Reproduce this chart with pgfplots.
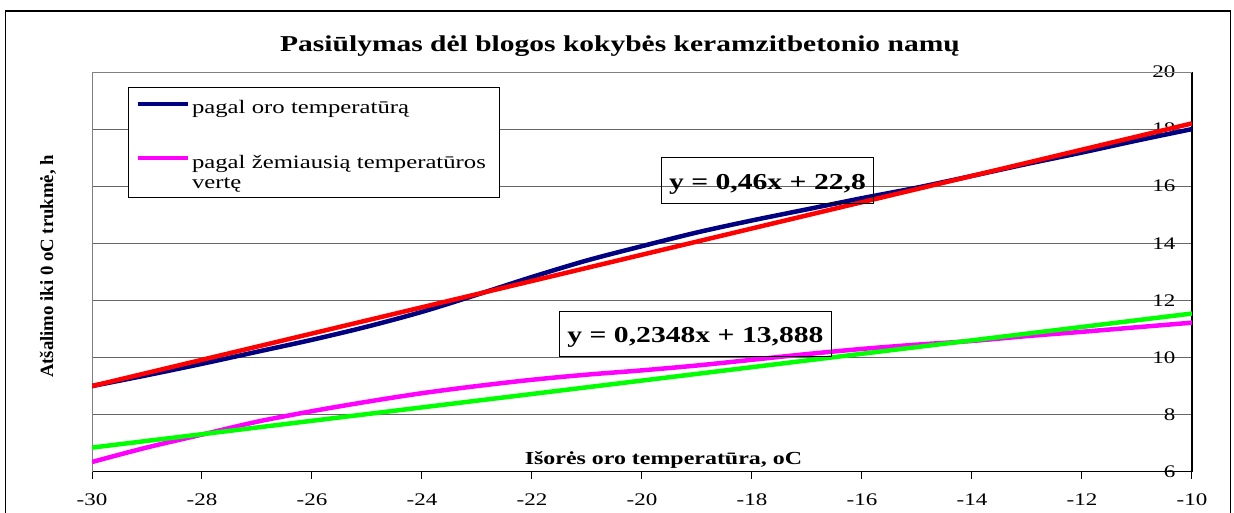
\documentclass[border=0pt]{standalone}
\usepackage{fontspec}
\setmainfont{Liberation Serif}[FakeStretch=1.3]
\newfontfamily\ylabfont{Liberation Serif}
\usepackage{graphicx}
\usepackage{pgfplots}
\pgfplotsset{compat=1.18}
\definecolor{navyc}{RGB}{0,0,128}
\definecolor{redc}{RGB}{255,0,0}
\definecolor{magc}{RGB}{255,0,255}
\definecolor{grnc}{RGB}{0,255,0}
\begin{document}
\begin{tikzpicture}
\useasboundingbox (0,0) rectangle (1234bp,-513bp);
\draw[line width=1.2bp] (5.5bp,-11bp) rectangle (1230.5bp,-540bp);
\node[font=\fontsize{22.7bp}{26bp}\selectfont\bfseries, anchor=base] at (620bp,-51bp) {Pasiūlymas dėl blogos kokybės keramzitbetonio namų};
\node[inner sep=0pt] at (48bp,-266.5bp) {\rotatebox{90}{\ylabfont\fontsize{18.75bp}{20bp}\selectfont\bfseries Atšalimo iki 0 oC trukmė, h}};
\begin{axis}[
  at={(92bp,-471.7bp)}, anchor=south west,
  scale only axis, width=1100bp, height=399.7bp,
  xmin=-30, xmax=-10, ymin=6, ymax=20,
  axis x line*=bottom, axis y line*=right,
  axis line style={-, black, line width=1.2bp},
  xtick={-30,-28,-26,-24,-22,-20,-18,-16,-14,-12,-10},
  xticklabels={-30,-28,-26,-24,-22,-20,-18,-16,-14,-12,-10},
  ytick={6,8,10,12,14,16,18,20},
  yticklabels={6,8,10,12,14,16,18,20},
  tick label style={font=\fontsize{17.7bp}{20bp}\selectfont},
  xticklabel style={anchor=north, yshift=-12bp},
  yticklabel style={anchor=east, xshift=-20bp},
  tick align=outside,
  major tick length=7bp,
  xtick style={black, line width=1bp},
  ytick style={draw=none},
  ymajorgrids=true,
  major grid style={black!60, line width=1bp},
  clip=true,
  legend image code/.code={\draw[#1] (0bp,10bp) -- (50bp,10bp);},
  legend style={
    at={(0.03273,0.9625)}, anchor=north west,
    draw=black, line width=1bp, fill=white,
    inner xsep=7bp, inner ysep=5.8bp,
    row sep=36.7bp, column sep=2bp,
    font=\fontsize{19bp}{20bp}\selectfont,
    nodes={inner sep=0pt, text depth=, text width=300bp},
    cells={anchor=base west},
  },
]
\draw[black!50, line width=1.2bp] (rel axis cs:0,0) -- (rel axis cs:0,1) -- (rel axis cs:1,1);
\addplot[color=navyc, line width=4.5bp, smooth, tension=0.5] coordinates {
 (-30,9.0) (-29,9.38) (-28,9.78) (-27,10.2) (-26,10.62) (-25,11.08) (-24,11.6)
 (-23,12.2) (-22,12.82) (-21,13.4) (-20,13.9) (-19,14.38) (-18,14.8) (-17,15.19)
 (-16,15.58) (-15,15.95) (-14,16.36) (-13,16.78) (-12,17.18) (-11,17.6) (-10,18.0)};
\addlegendentry{\rule{0pt}{20.7bp}pagal oro temperatūrą}
\addplot[color=magc, line width=4.5bp, smooth, tension=0.5] coordinates {
 (-30,6.34) (-29,6.85) (-28,7.3) (-27,7.75) (-26,8.12) (-25,8.45) (-24,8.75)
 (-23,9.0) (-22,9.22) (-21,9.4) (-20,9.55) (-19,9.72) (-18,9.92) (-17,10.12)
 (-16,10.3) (-15,10.45) (-14,10.58) (-13,10.75) (-12,10.9) (-11,11.06) (-10,11.22)};
\addlegendentry{pagal žemiausią temperatūros\\vertę}
\addplot[color=redc, line width=4.5bp, forget plot] coordinates {(-30,9.0) (-10,18.2)};
\addplot[color=grnc, line width=4.5bp, forget plot] coordinates {(-30,6.844) (-10,11.54)};
\node[draw=black, line width=1bp, minimum width=211.6bp, minimum height=46bp, inner sep=0pt,
  text height=22bp, text depth=4bp, font=\fontsize{22.8bp}{24bp}\selectfont\bfseries]
  at (axis cs:-17.718,16.207) {y = 0,46x + 22,8};
\node[draw=black, line width=1bp, minimum width=272.4bp, minimum height=45.7bp, inner sep=0pt,
  text height=22bp, text depth=4bp, font=\fontsize{22.8bp}{24bp}\selectfont\bfseries]
  at (axis cs:-19.027,10.828) {y = 0,2348x + 13,888};
\node[anchor=base, font=\fontsize{18.4bp}{20bp}\selectfont\bfseries] at (axis cs:-19.61,6.235) {Išorės oro temperatūra, oC};
\end{axis}
\end{tikzpicture}
\end{document}
